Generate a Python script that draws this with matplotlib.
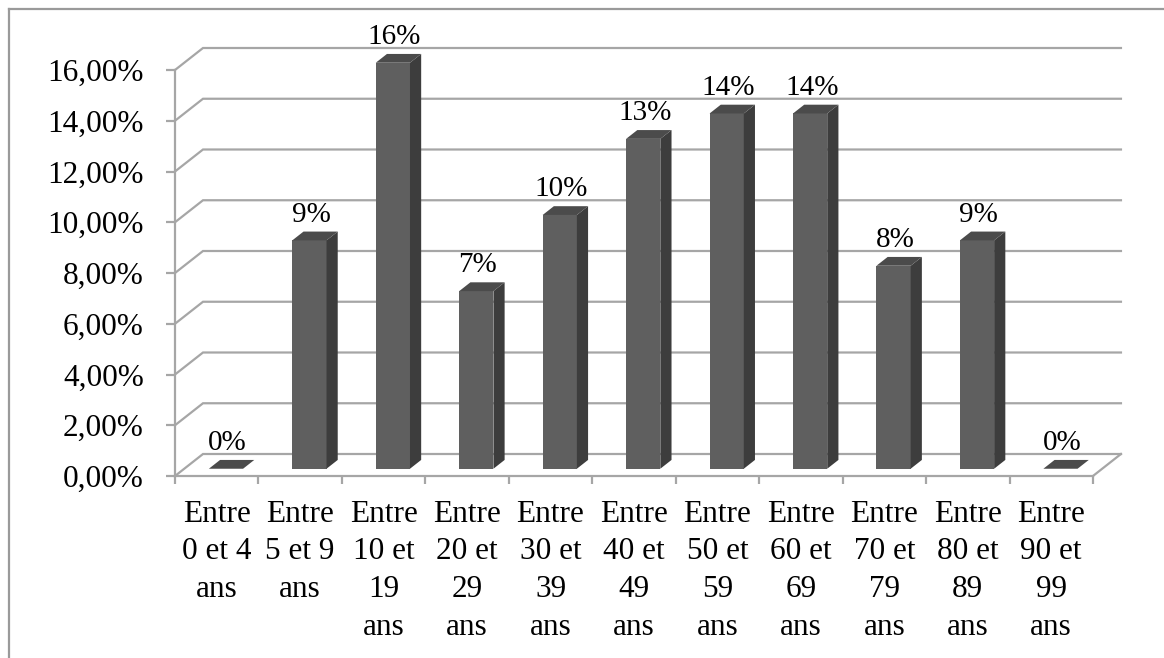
import matplotlib
matplotlib.use('Agg')
import matplotlib.pyplot as plt
import numpy as np
from matplotlib.patches import Polygon
from matplotlib.lines import Line2D

# ---- data ----
categories = ["Entre\n0 et 4\nans", "Entre\n5 et 9\nans", "Entre\n10 et\n19\nans",
              "Entre\n20 et\n29\nans", "Entre\n30 et\n39\nans", "Entre\n40 et\n49\nans",
              "Entre\n50 et\n59\nans", "Entre\n60 et\n69\nans", "Entre\n70 et\n79\nans",
              "Entre\n80 et\n89\nans", "Entre\n90 et\n99\nans"]
values = [0, 9, 16, 7, 10, 13, 14, 14, 8, 9, 0]
value_labels = ["0%", "9%", "16%", "7%", "10%", "13%", "14%", "14%", "8%", "9%", "0%"]
yticks = [0, 2, 4, 6, 8, 10, 12, 14, 16]
ytick_labels = ["0,00%", "2,00%", "4,00%", "6,00%", "8,00%", "10,00%", "12,00%", "14,00%", "16,00%"]

# ---- layout / style ----
W, H = 1164, 658
PX = 83.45      # pixels per category
PY = 25.375     # pixels per percent
X0, Y0 = 175, 476
DX = 28 / PX    # depth offset (category units)
DY = 22 / PY    # depth offset (percent units)
Z0, Z1 = 0.33, 0.73
BW = 0.41
GRID = '#a6a6a6'
FRONT, TOP, SIDE = '#5f5f5f', '#4b4b4b', '#3d3d3d'
FONT = 'Liberation Serif'

plt.rcParams['font.family'] = [FONT, 'DejaVu Serif']

fig = plt.figure(figsize=(W / 100, H / 100), dpi=100)
fig.patch.set_facecolor('white')
ax = fig.add_axes([0, 0, 1, 1])
ax.set_facecolor('none')
ax.set_xlim(-X0 / PX, (W - X0) / PX)
ax.set_ylim(-(H - Y0) / PY, Y0 / PY)

n = len(categories)
ymax = max(yticks)

# walls / gridlines
for v in yticks:
    ax.plot([0, DX, n + DX], [v, v + DY, v + DY], color=GRID, lw=1.6, zorder=1,
            solid_joinstyle='miter')
ax.plot([n, n + DX], [0, DY], color=GRID, lw=1.6, zorder=1)

# bars
for i, v in enumerate(values):
    xl = i + 0.5 - BW / 2 + Z0 * DX
    xr = xl + BW
    yb = Z0 * DY
    yt = v + Z0 * DY
    d = Z1 - Z0
    ddx, ddy = d * DX, d * DY
    if v > 0:
        ax.add_patch(Polygon([(xl, yb), (xr, yb), (xr, yt), (xl, yt)], closed=True,
                             facecolor=FRONT, edgecolor='none', zorder=3))
        ax.add_patch(Polygon([(xr, yb), (xr + ddx, yb + ddy), (xr + ddx, yt + ddy), (xr, yt)],
                             closed=True, facecolor=SIDE, edgecolor='none', zorder=3))
    ax.add_patch(Polygon([(xl, yt), (xr, yt), (xr + ddx, yt + ddy), (xl + ddx, yt + ddy)],
                         closed=True, facecolor=TOP, edgecolor='none', zorder=3))
    ax.annotate(value_labels[i], xy=(i + 0.5 + Z0 * DX + 0.02, yt + ddy),
                xytext=(0, 7.2), textcoords='offset points', ha='center', va='baseline',
                fontsize=21, color='black', zorder=5)

# axes
for s in ['top', 'right']:
    ax.spines[s].set_visible(False)
ax.spines['left'].set_position(('data', 0))
ax.spines['left'].set_bounds(0, ymax)
ax.spines['bottom'].set_position(('data', 0))
ax.spines['bottom'].set_bounds(0, n)
for s in ['left', 'bottom']:
    ax.spines[s].set_color(GRID)
    ax.spines[s].set_linewidth(1.6)
    ax.spines[s].set_zorder(2)

ax.set_yticks(yticks)
ax.set_yticklabels(ytick_labels)
ax.tick_params(axis='y', direction='out', length=6.5, width=1.6, color=GRID, pad=16,
               labelsize=22.5)
ax.set_xticks(np.arange(n + 1))
ax.set_xticks(np.arange(n) + 0.5, minor=True)
ax.set_xticklabels(categories, minor=True, linespacing=1.4)
ax.tick_params(axis='x', which='major', direction='out', length=6, width=1.6, color=GRID,
               labelbottom=False)
ax.tick_params(axis='x', which='minor', length=0, pad=17, labelsize=22.5)

# chart border
fig.add_artist(Line2D([8.5 / W, 8.5 / W], [0, 1 - 8.5 / H], transform=fig.transFigure,
                      color='#9a9a9a', lw=1.6))
fig.add_artist(Line2D([8.5 / W, 1], [1 - 8.5 / H, 1 - 8.5 / H], transform=fig.transFigure,
                      color='#9a9a9a', lw=1.6))

fig.savefig('out.png', dpi=100, facecolor='white')
